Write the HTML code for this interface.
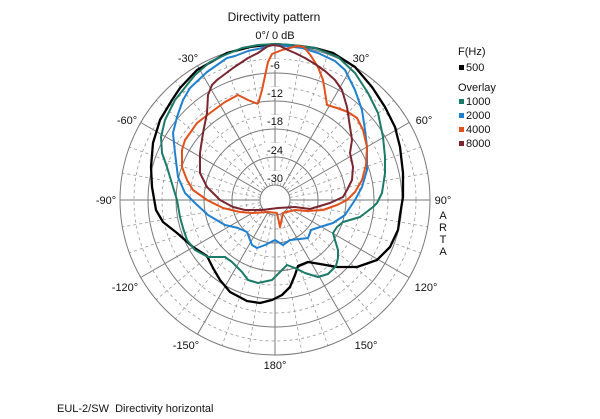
<!DOCTYPE html>
<html><head><meta charset="utf-8"><style>
html,body{margin:0;padding:0;background:#fff;}
svg{display:block;}
text{font-family:"Liberation Sans",Arial,sans-serif;fill:#111;}
</style></head><body>
<svg width="600" height="419" viewBox="0 0 600 419" xmlns="http://www.w3.org/2000/svg">
<rect width="600" height="419" fill="#fff"/>
<g fill="none" stroke="#9a9a9a" stroke-width="0.8" stroke-dasharray="3,3">
<circle cx="275" cy="200" r="141"/><circle cx="275" cy="200" r="113"/><circle cx="275" cy="200" r="85"/><circle cx="275" cy="200" r="57"/><circle cx="275" cy="200" r="29"/>
<g id="dr">
<line x1="275" y1="185" x2="275" y2="45" transform="rotate(10 275 200)"/>
<line x1="275" y1="185" x2="275" y2="45" transform="rotate(20 275 200)"/>
</g>
<use href="#dr" transform="rotate(30 275 200)"/><use href="#dr" transform="rotate(60 275 200)"/><use href="#dr" transform="rotate(90 275 200)"/><use href="#dr" transform="rotate(120 275 200)"/><use href="#dr" transform="rotate(150 275 200)"/><use href="#dr" transform="rotate(180 275 200)"/><use href="#dr" transform="rotate(210 275 200)"/><use href="#dr" transform="rotate(240 275 200)"/><use href="#dr" transform="rotate(270 275 200)"/><use href="#dr" transform="rotate(300 275 200)"/><use href="#dr" transform="rotate(330 275 200)"/>
</g>
<g fill="none" stroke="#7a7a7a" stroke-width="1">
<circle cx="275" cy="200" r="155"/><circle cx="275" cy="200" r="127"/><circle cx="275" cy="200" r="99"/><circle cx="275" cy="200" r="71"/><circle cx="275" cy="200" r="43"/>
<g id="sr"><line x1="275" y1="185" x2="275" y2="45"/></g>
<use href="#sr" transform="rotate(30 275 200)"/><use href="#sr" transform="rotate(60 275 200)"/><use href="#sr" transform="rotate(90 275 200)"/><use href="#sr" transform="rotate(120 275 200)"/><use href="#sr" transform="rotate(150 275 200)"/><use href="#sr" transform="rotate(180 275 200)"/><use href="#sr" transform="rotate(210 275 200)"/><use href="#sr" transform="rotate(240 275 200)"/><use href="#sr" transform="rotate(270 275 200)"/><use href="#sr" transform="rotate(300 275 200)"/><use href="#sr" transform="rotate(330 275 200)"/>
<circle cx="275" cy="200" r="15" fill="#fff"/>
</g>
<g font-size="11" text-anchor="middle">
<rect x="266" y="59" width="18" height="11" fill="#fff"/><text x="275" y="69">-6</text>
<rect x="264" y="87" width="22" height="11" fill="#fff"/><text x="275" y="97">-12</text>
<rect x="264" y="115" width="22" height="11" fill="#fff"/><text x="275" y="125">-18</text>
<rect x="264" y="143" width="22" height="11" fill="#fff"/><text x="275" y="154">-24</text>
<rect x="264" y="171" width="22" height="11" fill="#fff"/><text x="275" y="182">-30</text>
</g>
<g fill="none" stroke-width="2" stroke-linejoin="round">
<polyline stroke="#000" stroke-width="2.3" points="275,44 300,46 315,48 333,53 355,67 372,87 385,107 395,127 400,147 403,173 403,197 400,215 398,230 390,247 377,260 357,267 337,267 320,264 308,262 298,266 295,275 290,287 282,295 272,300 260,303 247,301 230,292 220,280 213,268 207,256 193,247 177,233 163,222 156,210 152,187 151,167 153,143 160,120 172,100 180,88 197,70 227,53 250,47 275,44"/>
<polyline stroke="#1b7a68" points="275,44 292,45 315,48 338,57 355,73 368,93 378,113 383,137 385,157 385,173 382,193 377,203 373,207 360,217 343,222 337,227 333,233 335,240 338,250 338,258 336,266 328,274 318,277 305,273 295,268 287,265 282,270 272,280 258,283 248,280 242,272 232,262 225,257 208,257 195,250 187,240 183,228 180,217 177,200 173,187 167,167 162,153 161,137 165,120 175,100 183,90 195,75 210,62 225,55 242,48 258,45 275,44"/>
<polyline stroke="#2080d0" points="273,45 285,46 302,48 318,53 335,61 345,70 355,90 362,110 365,130 367,147 367,170 362,187 355,200 345,215 333,223 320,227 311,230 308,238 300,239 290,240 283,245 275,240 265,245 257,248 252,245 247,232 238,228 225,225 208,215 195,203 185,193 178,177 175,153 173,133 177,117 183,100 190,88 207,72 227,58 235,56 248,51 262,48 273,45"/>
<polyline stroke="#e2501c" points="258,104 262,90 265,76 268,62 272,54 282,50 297,46 304,47 311,56 318,67 323,80 325,92 327,105 337,108 348,112 357,118 363,130 367,147 366,165 362,180 355,192 347,200 337,205 323,210 307,211 295,210 283,213 280,227 277,213 268,212 252,213 240,212 223,208 207,200 193,190 187,180 182,167 182,150 185,140 190,133 197,123 210,113 225,102 238,95 248,100 258,104"/>
<polyline stroke="#7a2630" points="273,45 280,46 288,50 295,53 305,58 315,64 325,71 335,80 342,90 347,107 350,127 352,140 350,153 353,167 352,180 347,190 343,197 330,203 310,209 295,207 278,208 262,210 245,210 233,207 220,200 207,187 200,173 200,153 203,133 207,113 208,95 212,85 217,80 233,68 248,58 258,53 268,46 273,45"/>
</g>
<text x="274" y="21" font-size="12" text-anchor="middle">Directivity pattern</text>
<text x="275" y="39" font-size="11" text-anchor="middle">0°/ 0 dB</text>
<g font-size="11" text-anchor="middle">
<text x="188" y="62">-30°</text>
<text x="361" y="62">30°</text>
<text x="127" y="124">-60°</text>
<text x="424" y="124">60°</text>
<text x="106" y="204">-90°</text>
<text x="443" y="204">90°</text>
<text x="125" y="291">-120°</text>
<text x="426" y="291">120°</text>
<text x="186" y="349">-150°</text>
<text x="366" y="349">150°</text>
<text x="275" y="369">180°</text>
<text x="443" y="219">A</text>
<text x="443" y="231">R</text>
<text x="443" y="243">T</text>
<text x="443" y="255">A</text>
</g>
<g font-size="11">
<text x="458" y="55">F(Hz)</text>
<rect x="459" y="65" width="5" height="5" fill="#000"/><text x="466" y="71">500</text>
<text x="458" y="91">Overlay</text>
<rect x="459" y="99" width="5" height="5" fill="#1b7a68"/><text x="466" y="105">1000</text>
<rect x="459" y="113" width="5" height="5" fill="#2080d0"/><text x="466" y="119">2000</text>
<rect x="459" y="127" width="5" height="5" fill="#e2501c"/><text x="466" y="133">4000</text>
<rect x="459" y="141" width="5" height="5" fill="#7a2630"/><text x="466" y="147">8000</text>
</g>
<text x="57" y="412" font-size="11" xml:space="preserve">EUL-2/SW  Directivity horizontal</text>
</svg>
</body></html>
